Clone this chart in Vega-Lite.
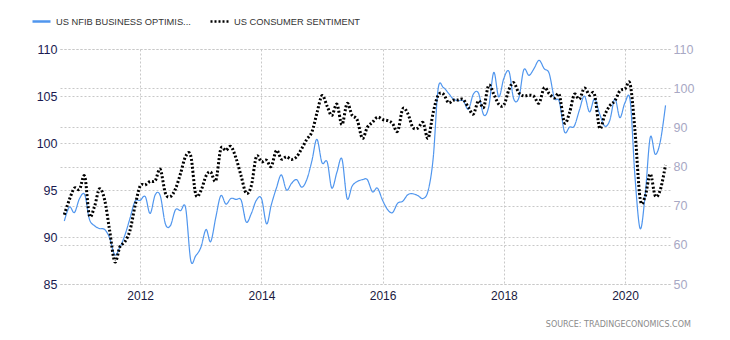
{
  "$schema": "https://vega.github.io/schema/vega-lite/v6.json",
  "width": 610,
  "height": 235,
  "autosize": {"type": "none"},
  "padding": {"left": 60, "top": 49, "right": 60, "bottom": 56},
  "background": "white",
  "config": {"view": {"stroke": null}, "font": "Liberation Sans"},
  "title": {
    "text": "SOURCE:  TRADINGECONOMICS.COM",
    "orient": "bottom",
    "anchor": "end",
    "fontSize": 8,
    "fontWeight": "normal",
    "font": "DejaVu Sans",
    "color": "#8a8a8a",
    "offset": 20,
    "dx": -3
  },
  "data": {
    "values": [
      {"date": "2010-10-01", "nfib": 91.7, "sentiment": 67.7},
      {"date": "2010-11-01", "nfib": 93.2, "sentiment": 71.6},
      {"date": "2010-12-01", "nfib": 92.6, "sentiment": 74.5},
      {"date": "2011-01-01", "nfib": 94.1, "sentiment": 74.2},
      {"date": "2011-02-01", "nfib": 94.5, "sentiment": 77.5},
      {"date": "2011-03-01", "nfib": 91.9, "sentiment": 67.5},
      {"date": "2011-04-01", "nfib": 91.2, "sentiment": 69.8},
      {"date": "2011-05-01", "nfib": 90.9, "sentiment": 74.3},
      {"date": "2011-06-01", "nfib": 90.8, "sentiment": 71.5},
      {"date": "2011-07-01", "nfib": 89.9, "sentiment": 63.7},
      {"date": "2011-08-01", "nfib": 88.1, "sentiment": 55.7},
      {"date": "2011-09-01", "nfib": 88.9, "sentiment": 59.5},
      {"date": "2011-10-01", "nfib": 90.2, "sentiment": 60.8},
      {"date": "2011-11-01", "nfib": 92.0, "sentiment": 63.7},
      {"date": "2011-12-01", "nfib": 93.8, "sentiment": 69.9},
      {"date": "2012-01-01", "nfib": 93.9, "sentiment": 75.0},
      {"date": "2012-02-01", "nfib": 94.3, "sentiment": 75.3},
      {"date": "2012-03-01", "nfib": 92.5, "sentiment": 76.2},
      {"date": "2012-04-01", "nfib": 94.5, "sentiment": 76.4},
      {"date": "2012-05-01", "nfib": 94.4, "sentiment": 79.3},
      {"date": "2012-06-01", "nfib": 91.4, "sentiment": 73.2},
      {"date": "2012-07-01", "nfib": 91.2, "sentiment": 72.3},
      {"date": "2012-08-01", "nfib": 92.9, "sentiment": 74.3},
      {"date": "2012-09-01", "nfib": 92.8, "sentiment": 78.3},
      {"date": "2012-10-01", "nfib": 93.1, "sentiment": 82.6},
      {"date": "2012-11-01", "nfib": 87.5, "sentiment": 82.7},
      {"date": "2012-12-01", "nfib": 88.0, "sentiment": 72.9},
      {"date": "2013-01-01", "nfib": 88.9, "sentiment": 73.8},
      {"date": "2013-02-01", "nfib": 90.8, "sentiment": 77.6},
      {"date": "2013-03-01", "nfib": 89.5, "sentiment": 78.6},
      {"date": "2013-04-01", "nfib": 92.1, "sentiment": 76.4},
      {"date": "2013-05-01", "nfib": 94.4, "sentiment": 84.5},
      {"date": "2013-06-01", "nfib": 93.5, "sentiment": 84.1},
      {"date": "2013-07-01", "nfib": 94.1, "sentiment": 85.1},
      {"date": "2013-08-01", "nfib": 94.0, "sentiment": 82.1},
      {"date": "2013-09-01", "nfib": 93.9, "sentiment": 77.5},
      {"date": "2013-10-01", "nfib": 91.6, "sentiment": 73.2},
      {"date": "2013-11-01", "nfib": 92.5, "sentiment": 75.1},
      {"date": "2013-12-01", "nfib": 93.9, "sentiment": 82.5},
      {"date": "2014-01-01", "nfib": 94.1, "sentiment": 81.2},
      {"date": "2014-02-01", "nfib": 91.4, "sentiment": 81.6},
      {"date": "2014-03-01", "nfib": 93.4, "sentiment": 80.0},
      {"date": "2014-04-01", "nfib": 95.2, "sentiment": 84.1},
      {"date": "2014-05-01", "nfib": 96.6, "sentiment": 81.9},
      {"date": "2014-06-01", "nfib": 95.0, "sentiment": 82.5},
      {"date": "2014-07-01", "nfib": 95.7, "sentiment": 81.8},
      {"date": "2014-08-01", "nfib": 96.1, "sentiment": 82.5},
      {"date": "2014-09-01", "nfib": 95.3, "sentiment": 84.6},
      {"date": "2014-10-01", "nfib": 96.1, "sentiment": 86.9},
      {"date": "2014-11-01", "nfib": 98.1, "sentiment": 88.8},
      {"date": "2014-12-01", "nfib": 100.4, "sentiment": 93.6},
      {"date": "2015-01-01", "nfib": 97.9, "sentiment": 98.1},
      {"date": "2015-02-01", "nfib": 98.0, "sentiment": 95.4},
      {"date": "2015-03-01", "nfib": 95.2, "sentiment": 93.0},
      {"date": "2015-04-01", "nfib": 96.9, "sentiment": 95.9},
      {"date": "2015-05-01", "nfib": 98.3, "sentiment": 90.7},
      {"date": "2015-06-01", "nfib": 94.1, "sentiment": 96.1},
      {"date": "2015-07-01", "nfib": 95.4, "sentiment": 93.1},
      {"date": "2015-08-01", "nfib": 95.9, "sentiment": 91.9},
      {"date": "2015-09-01", "nfib": 96.1, "sentiment": 87.2},
      {"date": "2015-10-01", "nfib": 96.1, "sentiment": 90.0},
      {"date": "2015-11-01", "nfib": 94.8, "sentiment": 91.3},
      {"date": "2015-12-01", "nfib": 95.2, "sentiment": 92.6},
      {"date": "2016-01-01", "nfib": 93.9, "sentiment": 92.0},
      {"date": "2016-02-01", "nfib": 92.9, "sentiment": 91.7},
      {"date": "2016-03-01", "nfib": 92.6, "sentiment": 91.0},
      {"date": "2016-04-01", "nfib": 93.6, "sentiment": 89.0},
      {"date": "2016-05-01", "nfib": 93.8, "sentiment": 94.7},
      {"date": "2016-06-01", "nfib": 94.5, "sentiment": 93.5},
      {"date": "2016-07-01", "nfib": 94.6, "sentiment": 90.0},
      {"date": "2016-08-01", "nfib": 94.4, "sentiment": 89.8},
      {"date": "2016-09-01", "nfib": 94.1, "sentiment": 91.2},
      {"date": "2016-10-01", "nfib": 94.9, "sentiment": 87.2},
      {"date": "2016-11-01", "nfib": 98.4, "sentiment": 93.8},
      {"date": "2016-12-01", "nfib": 105.8, "sentiment": 98.2},
      {"date": "2017-01-01", "nfib": 105.9, "sentiment": 98.5},
      {"date": "2017-02-01", "nfib": 105.3, "sentiment": 96.3},
      {"date": "2017-03-01", "nfib": 104.7, "sentiment": 96.9},
      {"date": "2017-04-01", "nfib": 104.5, "sentiment": 97.0},
      {"date": "2017-05-01", "nfib": 104.5, "sentiment": 97.1},
      {"date": "2017-06-01", "nfib": 103.6, "sentiment": 95.1},
      {"date": "2017-07-01", "nfib": 105.2, "sentiment": 93.4},
      {"date": "2017-08-01", "nfib": 105.3, "sentiment": 96.8},
      {"date": "2017-09-01", "nfib": 103.0, "sentiment": 95.1},
      {"date": "2017-10-01", "nfib": 103.8, "sentiment": 100.7},
      {"date": "2017-11-01", "nfib": 107.5, "sentiment": 98.5},
      {"date": "2017-12-01", "nfib": 104.9, "sentiment": 95.9},
      {"date": "2018-01-01", "nfib": 106.9, "sentiment": 95.7},
      {"date": "2018-02-01", "nfib": 107.6, "sentiment": 99.7},
      {"date": "2018-03-01", "nfib": 104.7, "sentiment": 101.4},
      {"date": "2018-04-01", "nfib": 104.8, "sentiment": 98.8},
      {"date": "2018-05-01", "nfib": 107.8, "sentiment": 98.0},
      {"date": "2018-06-01", "nfib": 107.2, "sentiment": 98.2},
      {"date": "2018-07-01", "nfib": 107.9, "sentiment": 97.9},
      {"date": "2018-08-01", "nfib": 108.8, "sentiment": 96.2},
      {"date": "2018-09-01", "nfib": 107.9, "sentiment": 100.1},
      {"date": "2018-10-01", "nfib": 107.4, "sentiment": 98.6},
      {"date": "2018-11-01", "nfib": 104.8, "sentiment": 97.5},
      {"date": "2018-12-01", "nfib": 104.4, "sentiment": 98.3},
      {"date": "2019-01-01", "nfib": 101.2, "sentiment": 91.2},
      {"date": "2019-02-01", "nfib": 101.7, "sentiment": 93.8},
      {"date": "2019-03-01", "nfib": 101.8, "sentiment": 98.4},
      {"date": "2019-04-01", "nfib": 103.5, "sentiment": 97.2},
      {"date": "2019-05-01", "nfib": 105.0, "sentiment": 100.0},
      {"date": "2019-06-01", "nfib": 103.3, "sentiment": 98.2},
      {"date": "2019-07-01", "nfib": 104.7, "sentiment": 98.4},
      {"date": "2019-08-01", "nfib": 103.1, "sentiment": 89.8},
      {"date": "2019-09-01", "nfib": 101.8, "sentiment": 93.2},
      {"date": "2019-10-01", "nfib": 102.4, "sentiment": 95.5},
      {"date": "2019-11-01", "nfib": 104.7, "sentiment": 96.8},
      {"date": "2019-12-01", "nfib": 102.7, "sentiment": 99.3},
      {"date": "2020-01-01", "nfib": 104.3, "sentiment": 99.8},
      {"date": "2020-02-01", "nfib": 104.5, "sentiment": 101.0},
      {"date": "2020-03-01", "nfib": 96.4, "sentiment": 89.1},
      {"date": "2020-04-01", "nfib": 90.9, "sentiment": 71.8},
      {"date": "2020-05-01", "nfib": 94.4, "sentiment": 72.3},
      {"date": "2020-06-01", "nfib": 100.6, "sentiment": 78.1},
      {"date": "2020-07-01", "nfib": 98.8, "sentiment": 72.5},
      {"date": "2020-08-01", "nfib": 100.2, "sentiment": 74.1},
      {"date": "2020-09-01", "nfib": 104.0, "sentiment": 80.4}
    ]
  },
  "encoding": {
    "x": {
      "field": "date",
      "type": "temporal",
      "scale": {"domain": ["2010-09-05", "2020-09-28"]},
      "axis": {
        "title": null,
        "values": [{"year": 2012}, {"year": 2014}, {"year": 2016}, {"year": 2018}, {"year": 2020}],
        "format": "%Y",
        "labelFontSize": 12,
        "labelColor": "#1a1a40",
        "labelPadding": 6,
        "ticks": false,
        "domain": false,
        "grid": true,
        "gridColor": "#c8c8c8",
        "gridDash": [2, 2],
        "gridWidth": 1
      }
    }
  },
  "layer": [
    {
      "mark": {"type": "line", "interpolate": "cardinal", "strokeWidth": 1.2},
      "encoding": {
        "y": {
          "field": "nfib",
          "type": "quantitative",
          "scale": {"domain": [85, 110], "nice": false, "zero": false},
          "axis": {
            "orient": "left",
            "title": null,
            "values": [85, 90, 95, 100, 105, 110],
            "labelFontSize": 12.5,
            "labelColor": "#1a1a50",
            "labelPadding": 3,
            "ticks": false,
            "domain": false,
            "grid": true,
            "gridColor": "#c8c8c8",
            "gridDash": [2, 2]
          }
        },
        "color": {
          "datum": "US NFIB BUSINESS OPTIMIS...",
          "type": "nominal",
          "scale": {
            "domain": ["US NFIB BUSINESS OPTIMIS...", "US CONSUMER SENTIMENT"],
            "range": ["#5096ee", "#000000"]
          },
          "legend": {
            "title": null,
            "orient": "none",
            "legendX": -29,
            "legendY": -38,
            "direction": "horizontal",
            "symbolType": "stroke",
            "symbolSize": 324,
            "symbolStrokeWidth": 2.5,
            "labelFontSize": 9.3,
            "labelColor": "#333333",
            "labelOffset": 4,
            "columnPadding": 14
          }
        },
        "strokeDash": {
          "datum": "US NFIB BUSINESS OPTIMIS...",
          "type": "nominal",
          "scale": {
            "domain": ["US NFIB BUSINESS OPTIMIS...", "US CONSUMER SENTIMENT"],
            "range": [[1, 0], [2, 2]]
          }
        }
      }
    },
    {
      "mark": {"type": "line", "interpolate": "cardinal", "strokeWidth": 3},
      "encoding": {
        "y": {
          "field": "sentiment",
          "type": "quantitative",
          "scale": {"domain": [50, 110], "nice": false, "zero": false},
          "axis": {
            "orient": "right",
            "title": null,
            "values": [50, 60, 70, 80, 90, 100, 110],
            "labelFontSize": 12.5,
            "labelColor": "#a8a8c4",
            "labelPadding": 3,
            "ticks": false,
            "domain": false,
            "grid": true,
            "gridColor": "#c8c8c8",
            "gridDash": [2, 2]
          }
        },
        "color": {"datum": "US CONSUMER SENTIMENT", "type": "nominal"},
        "strokeDash": {"datum": "US CONSUMER SENTIMENT", "type": "nominal"}
      }
    }
  ],
  "resolve": {"scale": {"y": "independent"}}
}
